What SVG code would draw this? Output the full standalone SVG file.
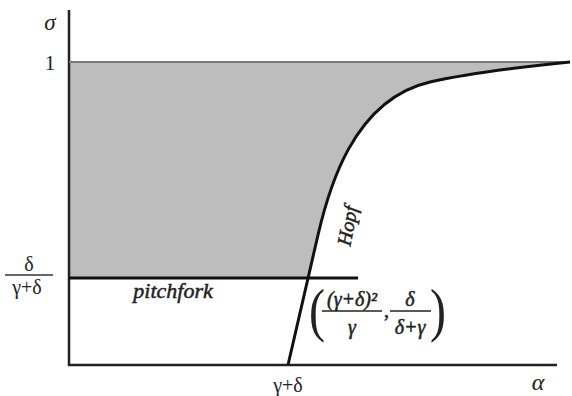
<svg xmlns="http://www.w3.org/2000/svg" width="572" height="396" viewBox="0 0 572 396">
<style>
.t{fill:#222}
.i{font-style:italic}
.s{stroke:#222;stroke-width:0.5}
.ax{stroke:#222;stroke-width:2.5;fill:none}
</style>
<rect width="572" height="396" fill="#fff"/>
<g id="region">
<path d="M69,62 L570,62 C530,66 470,73 430,82 C352,100 328,192 318,235 L308,278 L69,278 Z" fill="#bdbdbd"/>
</g>
<g id="connectors">
<line x1="69" y1="10" x2="69" y2="366" class="ax"/>
<line x1="68" y1="365" x2="557" y2="365" class="ax"/>
<line x1="69" y1="62" x2="570" y2="62" stroke="#7a7a7a" stroke-width="2"/>
<line x1="69" y1="278" x2="358" y2="278" stroke="#111" stroke-width="3"/>
<path d="M288,365 L318,235 C328,192 352,100 430,82 C470,73 530,66 570,62" fill="none" stroke="#111" stroke-width="3"/>
</g>
<g font-family="Liberation Serif, serif">
<g id="axis-labels">
<text class="t i" x="50" y="30" font-size="23" text-anchor="middle">σ</text>
<text class="t" x="50" y="70" font-size="21" text-anchor="middle">1</text>
<text class="t" x="29" y="271" font-size="20" text-anchor="middle">δ</text>
<line x1="5" y1="275" x2="53" y2="275" stroke="#333" stroke-width="1.3"/>
<text class="t" x="27" y="294" font-size="20" text-anchor="middle">γ+δ</text>
<text class="t" x="288" y="392" font-size="20" text-anchor="middle">γ+δ</text>
<text class="t i" x="538" y="390" font-size="24" text-anchor="middle">α</text>
</g>
<g id="pitchfork-label">
<text class="t i s" x="173" y="298" font-size="22" text-anchor="middle">pitchfork</text>
</g>
<g id="hopf-label">
<text class="t i s" x="0" y="0" font-size="20" text-anchor="middle" transform="translate(354,227) rotate(-79)">Hopf</text>
</g>
<g id="point-label">
<text class="t" x="309" y="330" font-size="60" transform="translate(309,330) scale(0.8,1) translate(-309,-330)">(</text>
<text class="t i s" x="352" y="306" font-size="20" text-anchor="middle">(γ+δ)²</text>
<line x1="322" y1="311" x2="382" y2="311" stroke="#222" stroke-width="1.3"/>
<text class="t i s" x="352" y="334" font-size="20" text-anchor="middle">γ</text>
<text class="t s" x="384" y="317" font-size="20">,</text>
<text class="t i s" x="410" y="306" font-size="20" text-anchor="middle">δ</text>
<line x1="390" y1="311" x2="431" y2="311" stroke="#222" stroke-width="1.3"/>
<text class="t i s" x="410" y="334" font-size="20" text-anchor="middle">δ+γ</text>
<text class="t" x="430" y="330" font-size="60" transform="translate(430,330) scale(0.8,1) translate(-430,-330)">)</text>
</g>
</g>
</svg>
